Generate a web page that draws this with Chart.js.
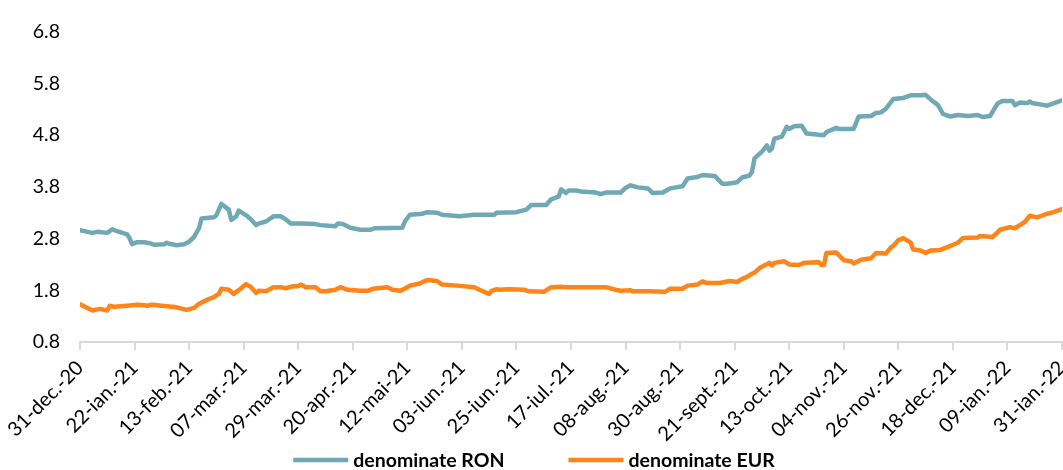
<!DOCTYPE html>
<html><head><meta charset="utf-8">
<script src="https://cdn.jsdelivr.net/npm/chart.js@4/dist/chart.umd.min.js"></script>
<style>html,body{margin:0;padding:0;background:#fff}#wrap{width:1063px;height:470px;position:relative}</style>
</head><body><div id="wrap"><canvas id="c"></canvas></div>
<script>
// ---- data ----
const tickLabels = ['31-dec.-20','22-ian.-21','13-feb.-21','07-mar.-21','29-mar.-21','20-apr.-21','12-mai-21','03-iun.-21','25-iun.-21','17-iul.-21','08-aug.-21','30-aug.-21','21-sept.-21','13-oct.-21','04-nov.-21','26-nov.-21','18-dec.-21','09-ian.-22','31-ian.-22'];
const yTickLabels = ['0.8','1.8','2.8','3.8','4.8','5.8','6.8'];
const seriesNames = ['denominate RON','denominate EUR'];

// days counted from 31-dec-20
const ronDays = [
 0,5,7,11,13,14,19,20,21,23,
 26,28,30,34,35,36,39,42,44,46,
 48,49,54,55,57,60,61,63,64,67,
 69,71,72,75,78,81,83,85,89,95,
 97,103,104,106,109,113,117,119,130,131,
 133,138,140,144,146,153,159,167,168,176,
 180,182,188,190,193,194,196,197,200,202,
 208,210,212,218,220,222,225,229,231,235,
 238,243,245,249,251,256,257,259,261,265,
 267,270,271,272,275,277,278,279,280,283,
 285,286,288,291,293,295,300,301,305,306,
 312,314,319,321,323,325,328,332,335,339,
 341,343,346,348,351,354,358,362,364,367,
 370,372,376,377,379,382,383,384,390,394,
 396];
const ronValues = [
 2.96,2.91,2.93,2.91,2.98,2.96,2.88,2.81,2.69,2.73,
 2.73,2.71,2.68,2.69,2.72,2.70,2.67,2.69,2.74,2.83,
 3.00,3.19,3.21,3.25,3.47,3.36,3.16,3.23,3.34,3.25,
 3.17,3.06,3.09,3.13,3.23,3.23,3.17,3.09,3.09,3.08,
 3.06,3.04,3.09,3.08,3.01,2.97,2.97,3.00,3.01,3.13,
 3.26,3.28,3.31,3.30,3.26,3.23,3.26,3.26,3.30,3.31,
 3.36,3.45,3.45,3.56,3.61,3.75,3.68,3.73,3.73,3.71,
 3.69,3.66,3.69,3.69,3.78,3.83,3.79,3.77,3.68,3.69,
 3.77,3.81,3.96,3.99,4.03,4.01,3.96,3.86,3.86,3.89,
 3.98,4.02,4.09,4.35,4.48,4.60,4.50,4.54,4.73,4.77,
 4.96,4.92,4.97,4.98,4.83,4.82,4.80,4.86,4.94,4.92,
 4.92,5.16,5.17,5.23,5.24,5.31,5.50,5.52,5.57,5.57,
 5.58,5.49,5.38,5.21,5.16,5.19,5.17,5.19,5.15,5.17,
 5.41,5.46,5.46,5.38,5.43,5.42,5.45,5.42,5.37,5.44,
 5.47];

const eurDays = [
 0,2,5,8,11,12,14,19,23,26,
 27,29,35,39,43,46,48,51,54,56,
 57,60,62,65,67,69,71,72,75,78,
 81,83,86,88,89,91,95,97,99,103,
 105,108,113,116,118,124,126,129,131,133,
 137,140,144,146,152,159,161,165,166,168,
 169,173,179,181,187,190,194,196,207,212,
 216,218,222,223,229,236,238,243,245,249,
 251,253,258,262,265,267,269,271,272,274,
 278,279,280,284,286,290,292,298,299,300,
 301,305,308,311,312,315,319,321,325,327,
 328,330,332,335,336,339,341,343,347,350,
 354,356,362,363,368,370,371,375,377,379,
 381,383,386,390,392,396];
const eurValues = [
 1.53,1.48,1.41,1.44,1.41,1.50,1.48,1.50,1.52,1.51,
 1.50,1.52,1.49,1.47,1.42,1.46,1.54,1.61,1.67,1.73,
 1.83,1.81,1.73,1.84,1.92,1.86,1.75,1.79,1.78,1.86,
 1.86,1.84,1.88,1.88,1.91,1.86,1.86,1.78,1.78,1.81,
 1.86,1.81,1.79,1.79,1.83,1.86,1.81,1.79,1.83,1.89,
 1.93,2.00,1.98,1.91,1.89,1.86,1.81,1.73,1.79,1.82,
 1.81,1.82,1.81,1.78,1.77,1.86,1.87,1.86,1.86,1.86,
 1.81,1.79,1.80,1.78,1.78,1.77,1.83,1.83,1.89,1.91,
 1.97,1.94,1.94,1.98,1.96,2.02,2.06,2.12,2.14,2.23,
 2.33,2.28,2.33,2.36,2.30,2.29,2.33,2.34,2.29,2.29,
 2.52,2.53,2.38,2.36,2.32,2.39,2.42,2.52,2.51,2.63,
 2.66,2.77,2.81,2.72,2.59,2.57,2.52,2.57,2.58,2.64,
 2.72,2.81,2.82,2.85,2.83,2.92,2.97,3.02,3.00,3.06,
 3.12,3.24,3.21,3.28,3.30,3.37];

const TICK_STEP = 22;
const X_MAX = TICK_STEP * (tickLabels.length - 1);

function pts(days, vals){
  const n = Math.min(days.length, vals.length);
  const out = [];
  for (let i = 0; i < n; i++) out.push({x: days[i], y: vals[i]});
  return out;
}

const FONT = 'Lato, "Noto Sans", sans-serif';

const customLegend = {
  id: 'customLegend',
  afterDraw(chart){
    const ctx = chart.ctx;
    ctx.save();
    ctx.font = 'bold 19.5px ' + FONT;
    ctx.textBaseline = 'middle';
    const lineW = 55, gapText = 5, gapItems = 64;
    const items = chart.data.datasets.map(ds => ({text: ds.label, color: ds.borderColor, w: ctx.measureText(ds.label).width}));
    const total = items.reduce((s, it) => s + lineW + gapText + it.w, 0) + gapItems * (items.length - 1);
    let x = 534 - total / 2;
    const y = 460;
    items.forEach(it => {
      ctx.strokeStyle = it.color;
      ctx.lineWidth = 4.5;
      ctx.beginPath();
      ctx.moveTo(x, y);
      ctx.lineTo(x + lineW, y);
      ctx.stroke();
      ctx.fillStyle = '#000';
      ctx.textAlign = 'left';
      ctx.fillText(it.text, x + lineW + gapText, y + 1);
      x += lineW + gapText + it.w + gapItems;
    });
    ctx.restore();
  }
};

new Chart(document.getElementById('c'), {
  type: 'line',
  data: {
    datasets: [
      {label: seriesNames[0], data: pts(ronDays, ronValues), borderColor: '#70a9b5', backgroundColor: '#70a9b5', borderWidth: 4.5, pointRadius: 0, tension: 0, borderJoinStyle: 'round', borderCapStyle: 'round'},
      {label: seriesNames[1], data: pts(eurDays, eurValues), borderColor: '#ff8419', backgroundColor: '#ff8419', borderWidth: 4.5, pointRadius: 0, tension: 0, borderJoinStyle: 'round', borderCapStyle: 'round'}
    ]
  },
  options: {
    responsive: true,
    maintainAspectRatio: false,
    animation: false,
    devicePixelRatio: 1,
    layout: {padding: {top: 23, right: 1, left: 0, bottom: 0}},
    plugins: {legend: {display: false}, tooltip: {enabled: false}},
    scales: {
      x: {
        type: 'linear',
        min: 0, max: X_MAX,
        grid: {display: true, drawOnChartArea: false, drawTicks: true, tickLength: 8, color: '#d9d9d9', lineWidth: 2},
        border: {display: true, color: '#d9d9d9', width: 2},
        ticks: {
          stepSize: TICK_STEP, autoSkip: false, maxTicksLimit: 40,
          maxRotation: 45, minRotation: 45, padding: 6,
          color: '#000', font: {family: FONT, size: 20},
          callback: (v) => tickLabels[Math.round(v / TICK_STEP)]
        },
        afterFit: (s) => { s.height = 128; s.paddingLeft = 0; s.paddingRight = 0; }
      },
      y: {
        min: 0.8, max: 6.8,
        grid: {display: false, drawTicks: false},
        border: {display: false},
        ticks: {
          stepSize: 1, padding: 20, color: '#000', font: {family: FONT, size: 19.5},
          callback: (v, i) => yTickLabels[i]
        },
        afterFit: (s) => { s.width = 80; }
      }
    }
  },
  plugins: [customLegend]
});
</script>
</body></html>
